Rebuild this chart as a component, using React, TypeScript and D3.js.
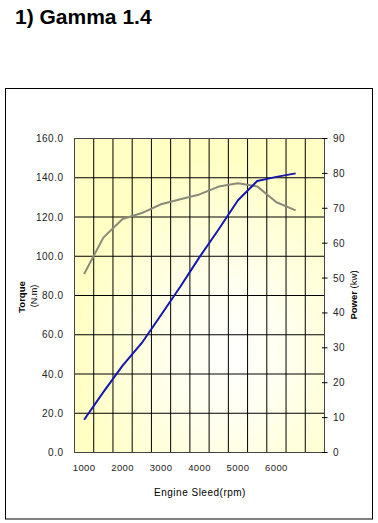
import React from "react";
import * as d3 from "d3";

const rpm = [1000, 1500, 2000, 2500, 3000, 3500, 4000, 4500, 5000, 5500, 6000, 6500];
const torque = [91, 109.5, 119, 122, 126.5, 129, 131.5, 135.5, 137.2, 135.6, 127.5, 123.4];
const power = [9.4, 17.3, 24.9, 31.4, 39.4, 47.5, 56, 64, 72.3, 77.8, 79, 80.0];
const categorySlots = 14; // band edges count incl. one empty slot -> 13 slots
const xTickLabels = ["1000", "2000", "3000", "4000", "5000", "6000"];
const torqueTicks = [0, 20, 40, 60, 80, 100, 120, 140, 160];
const powerTicks = [0, 10, 20, 30, 40, 50, 60, 70, 80, 90];

const W = 378;
const H = 523;
const X0 = 74.5, X1 = 324.5, YT = 138.5, YB = 452.5;

export default function App() {
  const nSlots = categorySlots - 1;
  const xb = d3.scaleBand<number>().domain(d3.range(nSlots)).range([X0, X1]).padding(0);
  const bw = xb.bandwidth();
  const xc = (i: number) => (xb(i) as number) + bw / 2;
  const yT = d3.scaleLinear().domain([0, 160]).range([YB, YT]);
  const yP = d3.scaleLinear().domain([0, 90]).range([YB, YT]);

  const torqueLine = d3.line<number>().x((_, i) => xc(i)).y((d) => yT(d))(torque) as string;
  const powerLine = d3.line<number>().x((_, i) => xc(i)).y((d) => yP(d))(power) as string;

  const edges = d3.range(nSlots + 1).map((i) => X0 + i * bw);
  const font = "'Liberation Sans', Arial, sans-serif";

  return (
    <svg width={W} height={H} style={{ position: "absolute", left: 0, top: 0, background: "#fff" }} fontFamily={font}>
      <defs>
        <radialGradient id="bg" cx="0.62" cy="0.68" r="0.62" fx="0.62" fy="0.68">
          <stop offset="0" stopColor="#ffffff" />
          <stop offset="0.35" stopColor="#fffff0" />
          <stop offset="1" stopColor="#ffffc4" />
        </radialGradient>
      </defs>
      <text x={15} y={23.5} fontSize={21} fontWeight="bold" fill="#000">1) Gamma 1.4</text>
      <rect x={5.5} y={88.5} width={367} height={430.5} fill="#fff" stroke="#000" strokeWidth={1} />
      <rect x={X0} y={YT} width={X1 - X0} height={YB - YT} fill="url(#bg)" />
      {torqueTicks.map((t) => (
        <line key={"h" + t} x1={X0} x2={X1} y1={yT(t)} y2={yT(t)} stroke="#000" strokeWidth={1} />
      ))}
      {edges.map((x, i) => (
        <line key={"v" + i} x1={x} x2={x} y1={YT} y2={YB} stroke="#000" strokeWidth={1} />
      ))}
      <rect x={X0} y={YT} width={X1 - X0} height={YB - YT} fill="none" stroke="#444" strokeWidth={1} />
      {powerTicks.map((p) => (
        <line key={"pt" + p} x1={X1 - 2.5} x2={X1 + 3} y1={yP(p)} y2={yP(p)} stroke="#000" strokeWidth={1} />
      ))}
      <path d={torqueLine} fill="none" stroke="#8a8a7a" strokeWidth={2} strokeLinejoin="round" />
      <path d={powerLine} fill="none" stroke="#1616aa" strokeWidth={2} strokeLinejoin="round" />
      {torqueTicks.map((t) => (
        <text key={"tl" + t} x={63.5} y={yT(t) + 3.5} fontSize={10} letterSpacing={0.5} textAnchor="end" fill="#222">
          {t.toFixed(1)}
        </text>
      ))}
      {powerTicks.map((p) => (
        <text key={"pl" + p} x={333} y={yP(p) + 3.5} fontSize={10} letterSpacing={0.4} fill="#222">
          {p}
        </text>
      ))}
      {rpm.map((r, i) =>
        xTickLabels.includes(String(r)) ? (
          <text key={"xl" + r} x={xc(i)} y={470.5} fontSize={9.5} letterSpacing={0.4} textAnchor="middle" fill="#222">
            {r}
          </text>
        ) : null
      )}
      <text x={200} y={496} fontSize={10} letterSpacing={0.5} textAnchor="middle" fill="#000">Engine Sleed(rpm)</text>
      <text transform="translate(25,297) rotate(-90)" fontSize={9.5} fontWeight="bold" textAnchor="middle" fill="#000">Torque</text>
      <text transform="translate(37,296) rotate(-90)" fontSize={9} textAnchor="middle" fill="#000">(N.m)</text>
      <text transform="translate(357,295) rotate(-90)" fontSize={9.5} textAnchor="middle" fill="#000">
        <tspan fontWeight="bold">Power</tspan> (kw)
      </text>
    </svg>
  );
}
